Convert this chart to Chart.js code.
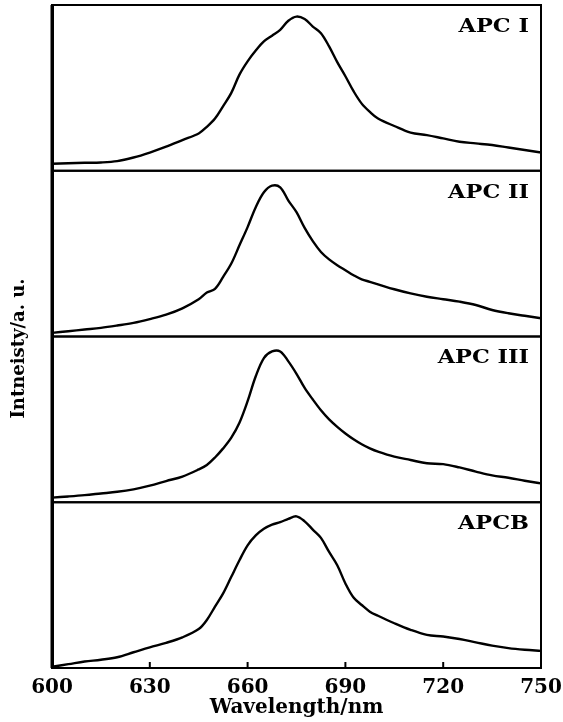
<!DOCTYPE html>
<html>
<head>
<meta charset="utf-8">
<script src="https://cdn.jsdelivr.net/npm/chart.js@4.4.0/dist/chart.umd.min.js"></script>
<style>
  html, body { margin: 0; padding: 0; background: #fff; }
  canvas { display: block; }
</style>
</head>
<body>
<canvas id="spec" width="563" height="722"></canvas>
<script>
'use strict';

/* ── data (intensity in % of panel height) ── */
const wavelengths = [600,605,610,615,620,625,630,635,640,645,647.5,650,652.5,655,657.5,660,662.5,665,667.5,670,672.5,675,677.5,680,682.5,685,687.5,690,692.5,695,697.5,700,705,710,715,720,725,730,735,740,745,750];
const apc1 = [4.2,4.5,4.8,5,5.8,8,11,14.5,18.5,22.5,26.5,31.5,39,47,58,66,72.5,78,81.5,85,90.5,93,91.5,87,83,75,65.5,57,48,40.5,35.5,31.5,27,23,21.5,19.5,17.5,16.5,15.5,14,12.5,11];
const apc2 = [2.2,3.2,4.2,5.2,6.6,8.2,10.5,13.2,17,22.5,26.5,28.8,36,44,55,66,78,87,91,90,82,75,65.5,57.5,51,46.5,43,40,37,34.5,33,31.5,28.5,26,24,22.5,21,19,16,14,12.5,11];
const apc3 = [2.8,3.5,4.3,5.3,6.3,7.8,10,12.8,15.5,19.8,22.5,27,32.5,39,48,61,76,87,91,91,85,77.5,69,62,55.5,50,45.5,41.5,38,35,32.5,30.5,27.5,25.5,23.5,23,21,18.5,16.2,14.8,13,11.4];
const apcb = [0.8,2.3,3.9,5,6.5,9.5,12.5,15.2,18.5,23.5,29,37,45,55,65,74,80,84,86.5,88,90,91.5,88.5,83.5,78.5,70,62,51,42.5,38,34,31.5,27,23,20,19,17.5,15.5,13.5,12,11,10.3];
const panelSeries = [apc1, apc2, apc3, apcb];
const panelLabels = ['APC I', 'APC II', 'APC III', 'APCB'];
const xTicks = [600, 630, 660, 690, 720, 750];
const xTitle = 'Wavelength/nm';
const yTitle = 'Intneisty/a. u.';

const SERIF = '"DejaVu Serif", "Liberation Serif", serif';
const panelIds = panelSeries.map((_, i) => 'p' + (i + 1));

/* ── datasets & stacked y axes ── */
const datasets = panelSeries.map((vals, i) => ({
  label: panelLabels[i],
  data: wavelengths.map((w, j) => ({ x: w, y: vals[j] })),
  yAxisID: panelIds[i],
  borderColor: '#000',
  borderWidth: 2.4,
  pointRadius: 0,
  tension: 0.35,
  fill: false
}));

const scales = {
  x: {
    type: 'linear', position: 'bottom', min: 600, max: 750,
    afterBuildTicks: s => { s.ticks = xTicks.map(v => ({ value: v })); },
    afterFit: s => { s.height = 54; s.paddingLeft = 0; s.paddingRight = 0; },
    grid: { display: false, drawTicks: false },
    border: { display: true, color: '#000', width: 2 },
    ticks: { color: '#000', padding: 8, font: { family: SERIF, size: 20, weight: 'bold' } },
    title: { display: true, text: xTitle, color: '#000', padding: { top: 0, bottom: 2 },
             font: { family: SERIF, size: 20, weight: 'bold' } }
  }
};
panelIds.forEach((id, i) => {
  scales[id] = {
    type: 'linear', position: 'left', stack: 'spec', stackWeight: 1,
    weight: panelIds.length - i, min: 0, max: 100, offset: false,
    afterFit: s => { s.width = 0; },
    grid: { display: false, drawTicks: false },
    border: { display: true, color: '#000', width: 3 },
    ticks: { display: false }
  };
});

/* ── frames, inner ticks, labels ── */
const decor = {
  id: 'decor',
  afterDatasetsDraw(chart) {
    const { ctx, chartArea: a } = chart;
    const xs = chart.scales.x;
    ctx.save();
    ctx.strokeStyle = '#000';
    ctx.fillStyle = '#000';
    ctx.lineWidth = 2;
    panelIds.forEach((id, i) => {
      const s = chart.scales[id];
      ctx.strokeRect(a.left, s.top, a.right - a.left, s.bottom - s.top);
      // labels: a touch wider, like the original's heavy serif
      ctx.save();
      ctx.translate(a.right - 12, s.top + 22);
      ctx.scale(1.18, 1);
      ctx.font = 'bold 19px ' + SERIF;
      ctx.textAlign = 'right';
      ctx.textBaseline = 'middle';
      ctx.fillText(panelLabels[i], 0, 0);
      ctx.restore();
    });
    // left axis a bit heavier
    ctx.lineWidth = 3;
    ctx.beginPath(); ctx.moveTo(a.left, a.top); ctx.lineTo(a.left, a.bottom); ctx.stroke();
    // inner ticks on the bottom axis
    ctx.lineWidth = 2;
    xTicks.slice(1, -1).forEach(v => {
      const px = xs.getPixelForValue(v);
      ctx.beginPath(); ctx.moveTo(px, a.bottom); ctx.lineTo(px, a.bottom - 6); ctx.stroke();
    });
    // y title
    ctx.translate(19, (a.top + a.bottom) / 2 + 12);
    ctx.rotate(-Math.PI / 2);
    ctx.font = 'bold 18px ' + SERIF;
    ctx.textAlign = 'center';
    ctx.textBaseline = 'middle';
    ctx.fillText(yTitle, 0, 0);
    ctx.restore();
  }
};

new Chart(document.getElementById('spec'), {
  type: 'line',
  data: { datasets },
  options: {
    responsive: false,
    animation: false,
    layout: { padding: { left: 52, right: 22, top: 5, bottom: 0 } },
    plugins: { legend: { display: false }, tooltip: { enabled: false } },
    scales
  },
  plugins: [decor]
});
</script>
</body>
</html>
